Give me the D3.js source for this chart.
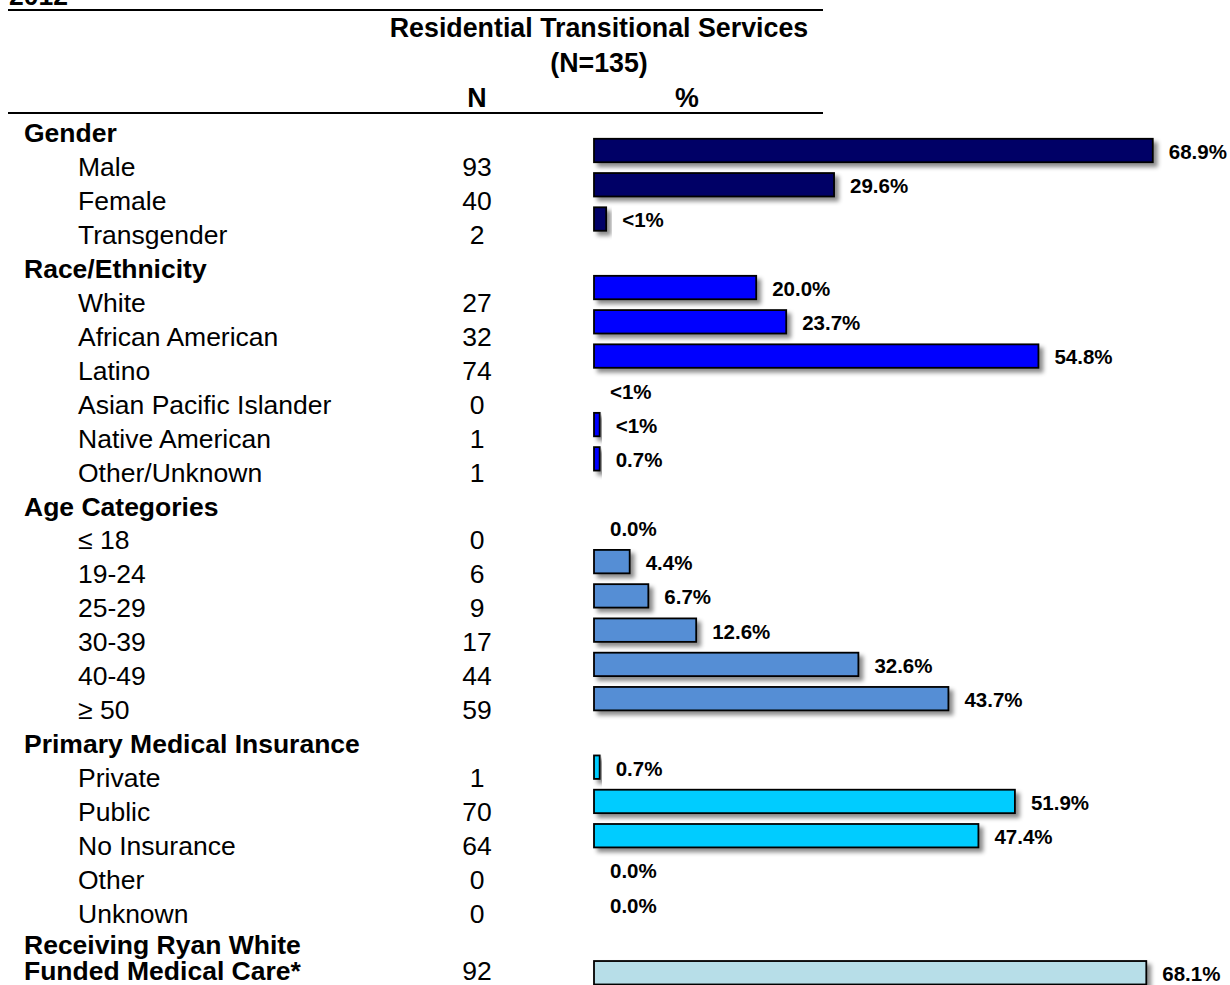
<!DOCTYPE html>
<html>
<head>
<meta charset="utf-8">
<script src="https://cdn.jsdelivr.net/npm/d3@7"></script>
<style>
  html, body { margin: 0; padding: 0; background: #fff; }
  svg { display: block; font-family: "Liberation Sans", Arial, sans-serif; }
</style>
</head>
<body>
<div id="chart"></div>
<script>
// ---------- DATA ----------
const titleText = "2012";
const headerTitle = "Residential Transitional Services";
const headerSub = "(N=135)";
const colHeaders = ["N", "%"];

const rowLabels = [
  "Gender", "Male", "Female", "Transgender",
  "Race/Ethnicity", "White", "African American", "Latino", "Asian Pacific Islander", "Native American", "Other/Unknown",
  "Age Categories", "≤ 18", "19-24", "25-29", "30-39", "40-49", "≥ 50",
  "Primary Medical Insurance", "Private", "Public", "No Insurance", "Other", "Unknown",
  "Receiving Ryan White", "Funded Medical Care*"
];
const rowIsHeader = [
  true, false, false, false,
  true, false, false, false, false, false, false,
  true, false, false, false, false, false, false,
  true, false, false, false, false, false,
  true, true
];
const rowGroup = [
  0, 0, 0, 0,
  1, 1, 1, 1, 1, 1, 1,
  2, 2, 2, 2, 2, 2, 2,
  3, 3, 3, 3, 3, 3,
  4, 4
];
const nValues = [
  null, 93, 40, 2,
  null, 27, 32, 74, 0, 1, 1,
  null, 0, 6, 9, 17, 44, 59,
  null, 1, 70, 64, 0, 0,
  null, 92
];
const pctValues = [
  null, 68.9, 29.6, 1.5,
  null, 20.0, 23.7, 54.8, 0, 0.7, 0.7,
  null, 0, 4.4, 6.7, 12.6, 32.6, 43.7,
  null, 0.7, 51.9, 47.4, 0, 0,
  null, 68.1
];
const pctLabels = [
  null, "68.9%", "29.6%", "<1%",
  null, "20.0%", "23.7%", "54.8%", "<1%", "<1%", "0.7%",
  null, "0.0%", "4.4%", "6.7%", "12.6%", "32.6%", "43.7%",
  null, "0.7%", "51.9%", "47.4%", "0.0%", "0.0%",
  null, "68.1%"
];
const groupColors = ["#000066", "#0000FF", "#558ED5", "#00CCFF", "#B7DEE8"];

// ---------- LAYOUT ----------
const W = 1230, H = 985;
const svg = d3.select("#chart").append("svg").attr("width", W).attr("height", H);

const defs = svg.append("defs");
const f = defs.append("filter").attr("id", "shadow")
  .attr("x", "-20%").attr("y", "-40%").attr("width", "160%").attr("height", "200%");
f.append("feDropShadow").attr("dx", 4).attr("dy", 4).attr("stdDeviation", 2.2)
  .attr("flood-color", "#000").attr("flood-opacity", 0.45);

const FS_REG = 26.5, FS_BOLD = 26.5, FS_HEAD = 26.8;

// Title (cut at top, as in the reference)
svg.append("text").attr("x", 9).attr("y", 5)
  .attr("font-size", FS_BOLD).attr("font-weight", "bold").text(titleText);

// Rules
const ruleX = [8, 823];
[10, 113].forEach(y => {
  svg.append("line").attr("x1", ruleX[0]).attr("x2", ruleX[1])
    .attr("y1", y).attr("y2", y).attr("stroke", "#000").attr("stroke-width", 2);
});

// Header texts
svg.append("text").attr("x", 599).attr("y", 37).attr("text-anchor", "middle")
  .attr("font-size", FS_HEAD).attr("font-weight", "bold").text(headerTitle);
svg.append("text").attr("x", 599).attr("y", 72).attr("text-anchor", "middle")
  .attr("font-size", FS_HEAD).attr("font-weight", "bold").text(headerSub);
const nColX = 477, pctColX = 687;
svg.append("text").attr("x", nColX).attr("y", 107).attr("text-anchor", "middle")
  .attr("font-size", FS_HEAD).attr("font-weight", "bold").text(colHeaders[0]);
svg.append("text").attr("x", pctColX).attr("y", 107).attr("text-anchor", "middle")
  .attr("font-size", FS_HEAD).attr("font-weight", "bold").text(colHeaders[1]);

// Text rows
const nRows = rowLabels.length;
const textY = d3.scaleLinear().domain([0, 23]).range([142, 923]);
function rowBaseline(i) {
  if (i < 24) return textY(i);
  // wrapped last label (two lines, tighter leading)
  return i === 24 ? 954 : 980;
}

const textG = svg.append("g");
rowLabels.forEach((lab, i) => {
  textG.append("text")
    .attr("x", rowIsHeader[i] ? 24 : 78)
    .attr("y", rowBaseline(i))
    .attr("font-size", rowIsHeader[i] ? FS_BOLD : FS_REG)
    .attr("font-weight", rowIsHeader[i] ? "bold" : "normal")
    .text(lab);
  if (nValues[i] !== null) {
    textG.append("text")
      .attr("x", nColX).attr("y", rowBaseline(i))
      .attr("text-anchor", "middle").attr("font-size", FS_REG)
      .text(nValues[i]);
  }
});

// Bars
const barStep = 34.26;
const firstCenter = 150.5 - barStep;
const y = d3.scaleBand()
  .domain(d3.range(nRows))
  .range([firstCenter - barStep / 2, firstCenter - barStep / 2 + nRows * barStep])
  .paddingInner(0.316).paddingOuter(0.158);
const x = d3.scaleLinear().domain([0, 70]).range([594, 594 + 70 * 8.11]);

const barRows = d3.range(nRows).filter(i => pctValues[i] !== null);

svg.append("g").selectAll("rect")
  .data(barRows.filter(i => pctValues[i] > 0))
  .join("rect")
  .attr("x", x(0))
  .attr("y", i => y(i))
  .attr("width", i => x(pctValues[i]) - x(0))
  .attr("height", y.bandwidth())
  .attr("fill", i => groupColors[rowGroup[i]])
  .attr("stroke", "#000")
  .attr("stroke-width", 1.8)
  .attr("filter", "url(#shadow)");

svg.append("g").selectAll("text")
  .data(barRows)
  .join("text")
  .attr("x", i => x(pctValues[i]) + 16)
  .attr("y", i => y(i) + y.bandwidth() / 2 + 1)
  .attr("dy", "0.36em")
  .attr("font-size", 20.5)
  .attr("font-weight", "bold")
  .text(i => pctLabels[i]);
</script>
</body>
</html>
